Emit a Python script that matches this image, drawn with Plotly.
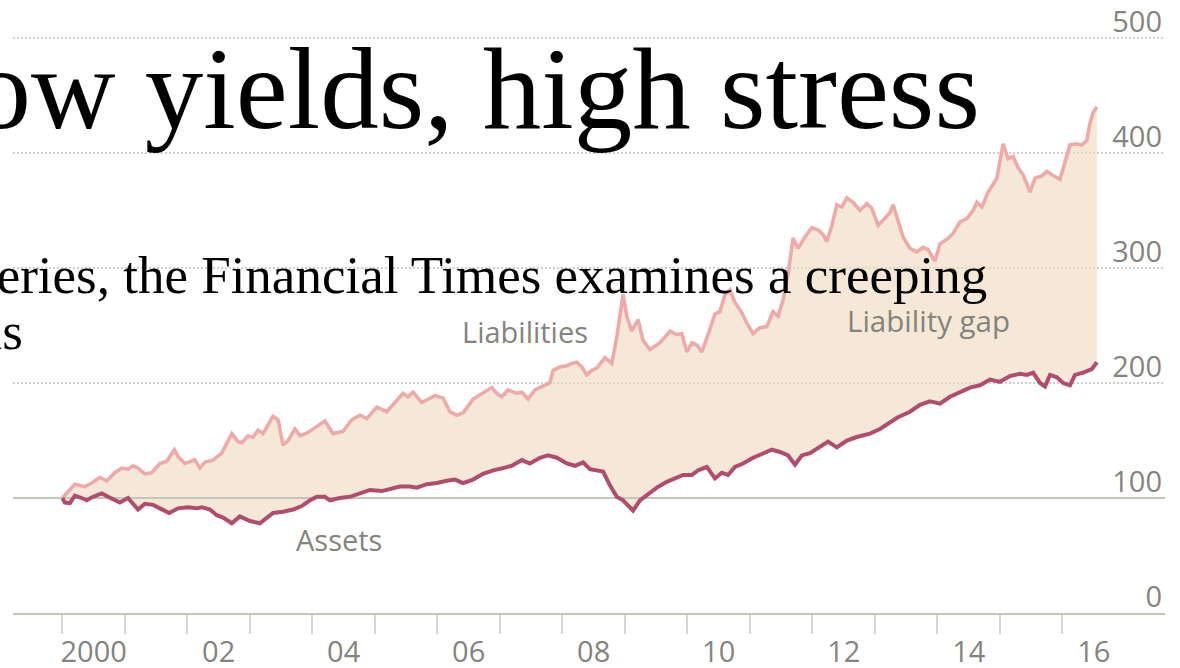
import plotly.graph_objects as go

# Index values (Jan 2000 = 100), sampled as decimal years
LIAB_YEAR = [
    2000.00, 2000.20, 2000.36, 2000.47, 2000.60, 2000.71, 2000.84, 2000.95,
    2001.05, 2001.13, 2001.21, 2001.32, 2001.43, 2001.56, 2001.67, 2001.79,
    2001.85, 2001.96, 2002.12, 2002.20, 2002.28, 2002.41, 2002.55, 2002.71,
    2002.81, 2002.87, 2002.97, 2003.05, 2003.13, 2003.21, 2003.37, 2003.45,
    2003.53, 2003.61, 2003.72, 2003.80, 2003.93, 2004.07, 2004.20, 2004.33,
    2004.49, 2004.63, 2004.76, 2004.87, 2005.03, 2005.19, 2005.32, 2005.45,
    2005.53, 2005.61, 2005.75, 2005.85, 2005.96, 2006.09, 2006.20, 2006.31,
    2006.41, 2006.57, 2006.73, 2006.87, 2006.95, 2007.03, 2007.13, 2007.27,
    2007.35, 2007.45, 2007.56, 2007.69, 2007.80, 2007.85, 2007.96, 2008.07,
    2008.15, 2008.23, 2008.31, 2008.39, 2008.47, 2008.55, 2008.68, 2008.79,
    2008.87, 2008.97, 2009.03, 2009.11, 2009.21, 2009.29, 2009.40, 2009.56,
    2009.72, 2009.83, 2009.91, 2009.99, 2010.07, 2010.15, 2010.23, 2010.33,
    2010.44, 2010.52, 2010.60, 2010.68, 2010.76, 2010.87, 2010.95, 2011.05,
    2011.16, 2011.27, 2011.37, 2011.45, 2011.53, 2011.61, 2011.69, 2011.77,
    2011.88, 2011.99, 2012.09, 2012.17, 2012.23, 2012.31, 2012.39, 2012.47,
    2012.55, 2012.65, 2012.76, 2012.87, 2012.95, 2013.05, 2013.16, 2013.24,
    2013.29, 2013.37, 2013.45, 2013.56, 2013.67, 2013.77, 2013.85, 2013.96,
    2014.04, 2014.15, 2014.25, 2014.36, 2014.47, 2014.57, 2014.63, 2014.71,
    2014.81, 2014.95, 2015.05, 2015.13, 2015.21, 2015.29, 2015.37, 2015.48,
    2015.56, 2015.67, 2015.75, 2015.83, 2015.96, 2016.04, 2016.12, 2016.23,
    2016.31, 2016.39, 2016.44, 2016.49, 2016.55,
]
LIAB_VALUE = [
    100, 112, 110, 113, 118, 115, 122, 126,
    125, 128, 126, 121, 122, 130, 132, 142,
    136, 130, 133, 126, 131, 133, 139, 156,
    149, 148, 154, 153, 159, 156, 171, 168,
    146, 150, 160, 154, 157, 162, 167, 156,
    158, 168, 172, 169, 179, 175, 183, 191,
    188, 192, 183, 186, 189, 187, 175, 172,
    174, 186, 191, 196, 191, 188, 194, 191,
    192, 186, 194, 197, 200, 211, 214, 215,
    217, 218, 214, 207, 211, 213, 222, 217,
    240, 277, 258, 245, 255, 237, 229, 235,
    245, 242, 243, 227, 235, 233, 227, 242,
    260, 262, 277, 281, 270, 261, 252, 243,
    248, 249, 262, 258, 272, 295, 326, 317,
    327, 335, 333, 329, 323, 337, 355, 353,
    361, 357, 350, 356, 352, 337, 343, 348,
    355, 340, 327, 317, 314, 318, 316, 306,
    321, 325, 330, 340, 343, 350, 357, 353,
    366, 378, 408, 395, 397, 387, 381, 366,
    378, 380, 384, 381, 377, 392, 407, 408,
    407, 411, 426, 435, 440,
]

ASSET_YEAR = [
    2000.00, 2000.04, 2000.12, 2000.20, 2000.31, 2000.39, 2000.49, 2000.63,
    2000.73, 2000.84, 2000.92, 2001.05, 2001.21, 2001.32, 2001.45, 2001.56,
    2001.71, 2001.85, 2002.01, 2002.15, 2002.23, 2002.36, 2002.47, 2002.57,
    2002.71, 2002.84, 2003.00, 2003.16, 2003.27, 2003.37, 2003.53, 2003.69,
    2003.83, 2003.96, 2004.07, 2004.20, 2004.28, 2004.44, 2004.60, 2004.76,
    2004.92, 2005.11, 2005.24, 2005.40, 2005.56, 2005.67, 2005.83, 2005.99,
    2006.15, 2006.28, 2006.41, 2006.57, 2006.73, 2006.89, 2007.05, 2007.19,
    2007.35, 2007.48, 2007.64, 2007.77, 2007.91, 2008.07, 2008.20, 2008.33,
    2008.44, 2008.55, 2008.65, 2008.76, 2008.87, 2008.97, 2009.13, 2009.24,
    2009.37, 2009.51, 2009.67, 2009.80, 2009.93, 2010.07, 2010.17, 2010.31,
    2010.44, 2010.55, 2010.65, 2010.76, 2010.89, 2011.05, 2011.21, 2011.35,
    2011.48, 2011.61, 2011.72, 2011.83, 2011.96, 2012.12, 2012.25, 2012.39,
    2012.55, 2012.71, 2012.92, 2013.08, 2013.21, 2013.36, 2013.56, 2013.72,
    2013.88, 2014.04, 2014.20, 2014.36, 2014.52, 2014.68, 2014.84, 2015.00,
    2015.16, 2015.32, 2015.43, 2015.53, 2015.64, 2015.72, 2015.80, 2015.91,
    2016.01, 2016.12, 2016.20, 2016.33, 2016.47, 2016.55,
]
ASSET_VALUE = [
    100, 96, 95.5, 102, 100, 98, 101, 104,
    101, 98, 96, 100, 90, 95, 94, 91,
    87, 91, 92, 91, 92, 90, 85, 83,
    78, 84, 80, 78, 83, 87, 88, 90,
    93, 98, 101, 101, 98, 100, 101, 104,
    107, 106, 108, 110, 110, 109, 112, 113,
    115, 116, 113, 116, 121, 124, 126, 128,
    133, 130, 135, 137, 135, 130, 128, 131,
    125, 124, 123, 111, 101, 98, 89, 98,
    103, 109, 114, 117, 120, 120, 124, 127,
    117, 122, 120, 127, 130, 135, 139, 142,
    140, 137, 129, 137, 139, 144, 149, 144,
    150, 153, 156, 160, 165, 170, 175, 181,
    184, 182, 188, 192, 196, 198, 203, 201,
    206, 208, 207, 209, 200, 197, 207, 205,
    200, 198, 207, 209, 212, 218,
]

BASE = 100
Y_TICKS = [0, 100, 200, 300, 400, 500]
YEAR_TICKS = list(range(2000, 2017))
X_LABEL_POS = [2000.5, 2002.5, 2004.5, 2006.5, 2008.5, 2010.5, 2012.5, 2014.5, 2016.5]
X_LABELS = ["2000", "02", "04", "06", "08", "10", "12", "14", "16"]
X_RANGE = [1999.21, 2017.64]
Y_RANGE = [0, 533]

TITLE = "Low yields, high stress"
SUB_LINE1 = "series, the Financial Times examines a creeping"
SUB_LINE2 = "crisis"

LIAB_COLOR = "#efaaa7"
ASSET_COLOR = "#b24c6c"
GAP_FILL = "rgba(238,217,188,0.6)"
AXIS_COLOR = "#c3c6ba"
GRID_COLOR = "#cfcfc8"
LABEL_COLOR = "#84847d"
SANS = "Open Sans"
SERIF = "Liberation Serif, Times New Roman, serif"

W, H = 1180, 668
M_L, M_R, M_T, M_B = 13, 15, 0, 55
PLOT_W = W - M_L - M_R
PLOT_H = H - M_T - M_B


def px_x(p):
    return (p - M_L) / PLOT_W


def px_y(p):
    return (PLOT_H - p) / PLOT_H


fig = go.Figure()

# shaded gap between the two series
fig.add_trace(go.Scatter(x=ASSET_YEAR, y=ASSET_VALUE, mode="lines",
                         line=dict(width=0, color=ASSET_COLOR), hoverinfo="skip",
                         showlegend=False))
fig.add_trace(go.Scatter(x=LIAB_YEAR, y=LIAB_VALUE, mode="lines",
                         line=dict(width=0, color=LIAB_COLOR), fill="tonexty",
                         fillcolor=GAP_FILL, hoverinfo="skip", showlegend=False))

# index baseline
fig.add_trace(go.Scatter(x=X_RANGE, y=[BASE, BASE], mode="lines",
                         line=dict(width=2, color=AXIS_COLOR), hoverinfo="skip",
                         showlegend=False))

fig.add_trace(go.Scatter(x=LIAB_YEAR, y=LIAB_VALUE, mode="lines", name="Liabilities",
                         line=dict(width=3.6, color=LIAB_COLOR), showlegend=False))
fig.add_trace(go.Scatter(x=ASSET_YEAR, y=ASSET_VALUE, mode="lines", name="Assets",
                         line=dict(width=4, color=ASSET_COLOR), showlegend=False))

annotations = [
    dict(text="Liabilities", x=2007.40, y=245, xref="x", yref="y", showarrow=False,
         font=dict(family=SANS, size=29, color=LABEL_COLOR)),
    dict(text="Assets", x=2004.43, y=64, xref="x", yref="y", showarrow=False,
         font=dict(family=SANS, size=29, color=LABEL_COLOR)),
    dict(text="Liability gap", x=2013.85, y=254, xref="x", yref="y", showarrow=False,
         font=dict(family=SANS, size=29.5, color=LABEL_COLOR)),
    dict(text=TITLE, x=px_x(982), y=px_y(89), xref="paper", yref="paper",
         xanchor="right", yanchor="middle", showarrow=False,
         font=dict(family=SERIF, size=117, color="#000000")),
    dict(text=SUB_LINE1, x=px_x(989), y=px_y(275), xref="paper", yref="paper",
         xanchor="right", yanchor="middle", showarrow=False,
         font=dict(family=SERIF, size=53, color="#000000")),
    dict(text=SUB_LINE2, x=px_x(25), y=px_y(331), xref="paper", yref="paper",
         xanchor="right", yanchor="middle", showarrow=False,
         font=dict(family=SERIF, size=53, color="#000000")),
]

fig.update_layout(
    width=W, height=H,
    margin=dict(l=M_L, r=M_R, t=M_T, b=M_B, pad=0, autoexpand=False),
    paper_bgcolor="white", plot_bgcolor="white",
    showlegend=False,
    annotations=annotations,
    xaxis=dict(
        range=X_RANGE, showgrid=False, zeroline=False, automargin=False,
        showline=True, linecolor=AXIS_COLOR, linewidth=2,
        tickmode="array", tickvals=X_LABEL_POS, ticktext=X_LABELS,
        ticks="", ticklabelstandoff=12,
        tickfont=dict(family=SANS, size=29, color=LABEL_COLOR),
        minor=dict(tickmode="array", tickvals=YEAR_TICKS, ticks="outside",
                   ticklen=19, tickwidth=2, tickcolor="#d6d6cf", showgrid=False),
    ),
    yaxis=dict(
        range=Y_RANGE, side="right", zeroline=False, showline=False, automargin=False,
        tickmode="array", tickvals=Y_TICKS, ticks="",
        ticklabelposition="inside top", ticklabeloverflow="allow",
        ticklabelshift=4,
        tickfont=dict(family=SANS, size=29, color=LABEL_COLOR),
        showgrid=True, gridcolor=GRID_COLOR, gridwidth=1.5, griddash="2px,2px",
    ),
)

fig.write_html("out.html")
